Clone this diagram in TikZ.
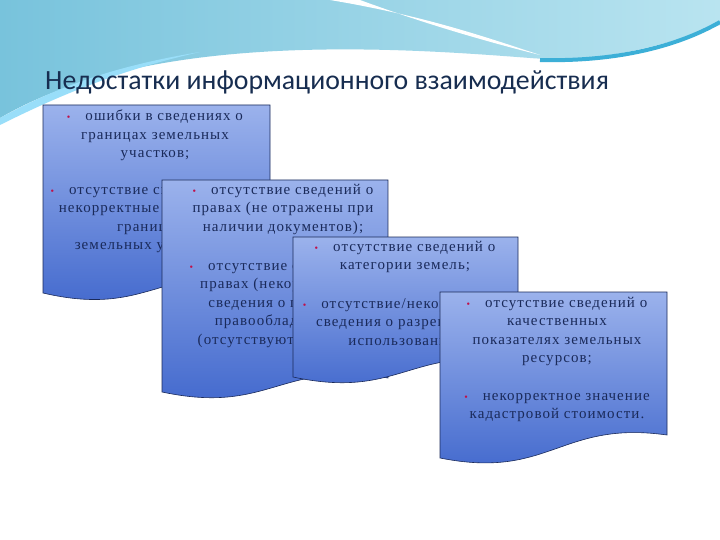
\documentclass[tikz,border=0pt]{standalone}
\usepackage{fontspec}
\setmainfont{Liberation Serif}[LetterSpace=7]
\newfontfamily\titlefont{Carlito}
\definecolor{cardtop}{HTML}{9BB2EC}
\definecolor{cardbot}{HTML}{3F66CC}
\definecolor{txt}{HTML}{1A2A5A}
\definecolor{hdrL}{RGB}{120,195,220}
\definecolor{hdrR}{RGB}{185,228,240}
\definecolor{band}{RGB}{60,175,215}
\definecolor{titlec}{RGB}{23,45,80}
\definecolor{bulc}{HTML}{C0104A}
\newcommand{\bu}{\textcolor{bulc}{\fontsize{10}{10}\selectfont•}\hspace{1em}}
\begin{document}
\begin{tikzpicture}[x=1pt,y=-1pt,
  cardshape/.style={draw=txt,line width=0.6pt,top color=cardtop,bottom color=cardbot},
  itemtext/.style={align=center,font=\fontsize{15}{18.5}\selectfont,text=txt,inner sep=0pt,anchor=north}]
\useasboundingbox (0,0) rectangle (720,540);
\fill[white] (0,0) rectangle (720,540);
% header swoosh
\shade[left color=hdrL,right color=hdrR]
  (0,0) -- (720,0) -- (720,25) .. controls (640,55) and (580,62) .. (530,58)
  .. controls (400,48) and (150,30) .. (0,118) -- cycle;
\fill[white] (330,0) .. controls (420,15) and (480,35) .. (540,55) .. controls (480,40) and (420,22) .. (360,0) -- cycle;
\fill[white!60!cyan] (0,118) .. controls (60,85) and (120,65) .. (200,52) .. controls (120,70) and (60,95) .. (0,125) -- cycle;
\draw[line width=4pt,band] (540,60) .. controls (620,62) and (680,45) .. (720,22);
\node[font=\titlefont\fontsize{27.8}{30}\selectfont,text=titlec,anchor=west,inner sep=0pt] (title) at (45,82) {Недостатки информационного взаимодействия};
% card 1
\path[cardshape] (43,105) -- (270,105) -- (270,280) .. controls (160,262) and (150,318) .. (43,293) -- cycle;
\node[itemtext] (t1a) at (155,110) {\bu ошибки в сведениях о\\границах земельных\\участков;};
\node[itemtext] (t1b) at (150,184) {\bu отсутствие сведений или\\некорректные сведения о\\границах\\земельных участков;};
% card 2
\path[cardshape] (162,180) -- (388,180) -- (388,378) .. controls (280,360) and (270,415) .. (162,392) -- cycle;
\node[itemtext] (t2a) at (283,184) {\bu отсутствие сведений о\\правах (не отражены при\\наличии документов);};
\node[itemtext] (t2b) at (280,260) {\bu отсутствие сведений о\\правах (некорректные\\сведения о правах и\\правообладателях\\(отсутствуют данные);};
% card 3
\path[cardshape] (293,237) -- (518,237) -- (518,362) .. controls (410,345) and (400,400) .. (293,377) -- cycle;
\node[itemtext] (t3a) at (405,241) {\bu отсутствие сведений о\\категории земель;};
\node[itemtext] (t3b) at (405,298) {\bu отсутствие/некорректные\\сведения о разрешенном\\использовании;};
% card 4
\path[cardshape] (440,292) -- (667,292) -- (667,435) .. controls (560,420) and (550,480) .. (440,458) -- cycle;
\node[itemtext] (t4a) at (557,297) {\bu отсутствие сведений о\\качественных\\показателях земельных\\ресурсов;};
\node[itemtext] (t4b) at (557,393) {\bu некорректное значение\\кадастровой стоимости.};
\end{tikzpicture}
\end{document}
